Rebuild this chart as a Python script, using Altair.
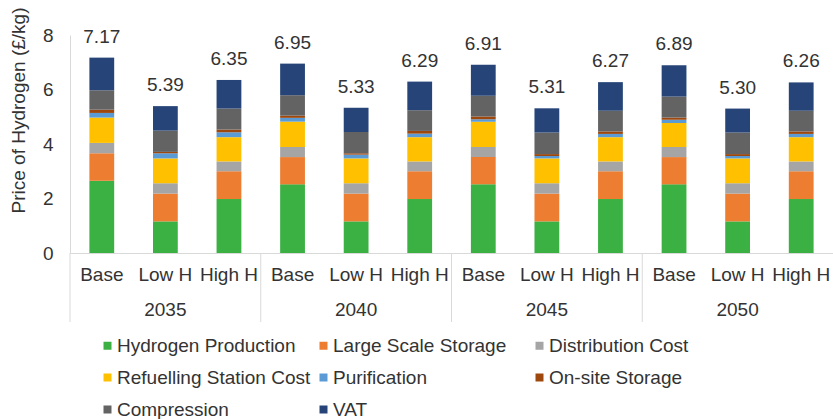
import altair as alt
import pandas as pd

# Cost build-up of hydrogen price (£/kg) by year and scenario
years = ["2035", "2040", "2045", "2050"]
scenarios = ["Base", "Low H", "High H"]
components = [
    "Hydrogen Production",
    "Large Scale Storage",
    "Distribution Cost",
    "Refuelling Station Cost",
    "Purification",
    "On-site Storage",
    "Compression",
    "VAT",
]
colors = ["#3bb143", "#ed7d31", "#a5a5a5", "#ffc000",
          "#5b9bd5", "#9e480e", "#636363", "#264478"]

# values ordered year by year: Base, Low H, High H
hydrogen_production = [2.65, 1.16, 1.98, 2.52, 1.16, 1.98, 2.52, 1.16, 1.98, 2.52, 1.16, 1.98]
large_scale_storage = [1.01, 1.02, 1.02, 1.00, 1.02, 1.02, 1.00, 1.02, 1.02, 1.00, 1.02, 1.02]
distribution_cost = [0.38, 0.38, 0.36, 0.37, 0.38, 0.36, 0.37, 0.38, 0.36, 0.37, 0.38, 0.36]
refuelling_station = [0.93, 0.91, 0.89, 0.93, 0.91, 0.89, 0.93, 0.91, 0.89, 0.88, 0.91, 0.89]
purification = [0.17, 0.19, 0.18, 0.14, 0.14, 0.13, 0.09, 0.09, 0.12, 0.12, 0.09, 0.12]
onsite_storage = [0.12, 0.05, 0.10, 0.08, 0.05, 0.10, 0.10, 0.07, 0.09, 0.08, 0.07, 0.09]
compression = [0.71, 0.78, 0.77, 0.75, 0.78, 0.76, 0.76, 0.79, 0.76, 0.77, 0.79, 0.76]
vat = [1.20, 0.90, 1.05, 1.16, 0.89, 1.05, 1.14, 0.89, 1.05, 1.15, 0.88, 1.04]

series = [hydrogen_production, large_scale_storage, distribution_cost,
          refuelling_station, purification, onsite_storage, compression, vat]

keys = [f"{y}|{s}" for y in years for s in scenarios]

rows = []
for ci, (comp, vals) in enumerate(zip(components, series)):
    for k, v in zip(keys, vals):
        rows.append({"key": k, "component": comp, "idx": ci, "value": v})
df = pd.DataFrame(rows)

sep_df = pd.DataFrame({"key": [f"{y}|Base" for y in years]})

TEXT = "#333333"
FONT_SIZE = 19
W, H = 763, 218

x_enc = alt.X(
    "key:N",
    sort=keys,
    scale=alt.Scale(paddingInner=0, paddingOuter=0),
    axis=alt.Axis(
        title=None,
        labelAngle=0,
        ticks=False,
        tickSize=0,
        domainColor="#d9d9d9",
        labelFontSize=FONT_SIZE,
        labelColor=TEXT,
        labelPadding=12,
        labelBaseline="top",
        labelLineHeight=35,
        labelOverlap=False,
        labelExpr="[split(datum.value, '|')[1], split(datum.value, '|')[1] == 'Low H' ? split(datum.value, '|')[0] : '']",
    ),
)

bars = alt.Chart(df).mark_bar(width=alt.RelativeBandSize(0.39)).encode(
    x=x_enc,
    y=alt.Y(
        "value:Q",
        stack="zero",
        scale=alt.Scale(domain=[0, 8], nice=False),
        axis=alt.Axis(
            values=[0, 2, 4, 6, 8],
            grid=False,
            ticks=False,
            tickSize=0,
            domainColor="#d9d9d9",
            labelPadding=17,
            labelFontSize=FONT_SIZE,
            labelColor=TEXT,
            title="Price of Hydrogen (£/kg)",
            titleFontSize=FONT_SIZE,
            titleFontWeight="normal",
            titleColor=TEXT,
            titleAngle=270,
            titleAlign="center",
            titleBaseline="middle",
            titleX=-52,
            titleY=75,
        ),
    ),
    color=alt.Color(
        "component:N",
        sort=components,
        scale=alt.Scale(domain=components, range=colors),
        legend=alt.Legend(
            title=None,
            orient="none",
            direction="horizontal",
            legendX=28,
            legendY=301,
            columns=3,
            gridAlign="all",
            columnPadding=3,
            rowPadding=12,
            symbolType="square",
            symbolSize=64,
            symbolStrokeWidth=0,
            labelOffset=0,
            labelFontSize=FONT_SIZE,
            labelColor=TEXT,
            labelLimit=400,
            padding=0,
        ),
    ),
    order=alt.Order("idx:Q", sort="ascending"),
)

totals = alt.Chart(df).transform_aggregate(
    total="sum(value)", groupby=["key"]
).mark_text(
    baseline="alphabetic", dy=-15, fontSize=FONT_SIZE, color=TEXT
).encode(
    x=alt.X("key:N", sort=keys),
    y=alt.Y("total:Q"),
    text=alt.Text("total:Q", format=".2f"),
)

separators = alt.Chart(sep_df).mark_rule(color="#d9d9d9", strokeWidth=1).encode(
    x=alt.X("key:N", sort=keys, bandPosition=0),
    y=alt.value(H),
    y2=alt.value(H + 69),
)

chart = alt.layer(bars, totals, separators).properties(
    width=W,
    height=H,
    autosize=alt.AutoSizeParams(type="none"),
    padding={"left": 70, "top": 35, "right": 0, "bottom": 166},
).configure(
    font="Liberation Sans",
).configure_view(
    stroke="transparent",
)

chart.save("out.html", embed_options={"renderer": "svg", "actions": False})
